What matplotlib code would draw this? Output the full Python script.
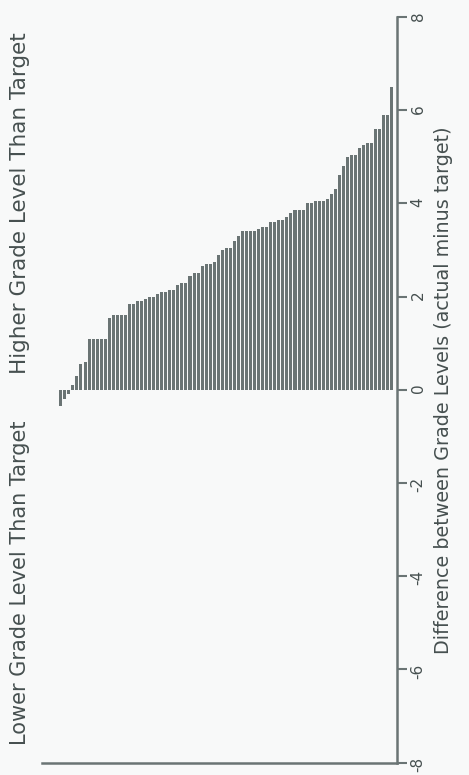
import matplotlib.pyplot as plt
from matplotlib.transforms import blended_transform_factory

# grade-level difference per item (actual minus target), sorted
diffs = [-0.35, -0.2, -0.1, 0.1, 0.3,
         0.55, 0.6,
         1.1, 1.1, 1.1, 1.1, 1.1,
         1.55, 1.6, 1.6, 1.6, 1.6,
         1.85, 1.85, 1.9, 1.9,
         1.95, 2.0, 2.0,
         2.05, 2.1, 2.1,
         2.15, 2.15,
         2.25, 2.3, 2.3,
         2.45, 2.5, 2.5,
         2.65, 2.7, 2.7, 2.75,
         2.9, 3.0, 3.05, 3.05,
         3.2, 3.3, 3.4, 3.4,
         3.4, 3.4, 3.45, 3.5, 3.5,
         3.6, 3.6, 3.65, 3.65, 3.7,
         3.8, 3.85, 3.85, 3.85,
         4.0, 4.0, 4.05, 4.05, 4.05, 4.1,
         4.2, 4.3, 4.6, 4.8,
         5.0, 5.05, 5.05,
         5.2, 5.25, 5.3, 5.3,
         5.6, 5.6,
         5.9, 5.9,
         6.5]
ticks = [-8, -6, -4, -2, 0, 2, 4, 6, 8]
tick_labels = ["-8", "-6", "-4", "-2", "0", "2", "4", "6", "8"]

grey = "#6a7474"
ink = "#465050"

fig = plt.figure(figsize=(4.69, 7.75), dpi=100, facecolor="#f8f9f9")
ax = fig.add_axes([0.09, 0.016, 0.756, 0.962])
ax.set_facecolor("#f8f9f9")

ax.bar(range(len(diffs)), diffs, width=0.75, color=grey, linewidth=0)

ax.set_xlim(-4.6, 83.2)
ax.set_ylim(-8, 8)
ax.set_xticks([])
ax.yaxis.tick_right()
ax.yaxis.set_label_position("right")
ax.set_yticks(ticks)
ax.set_yticklabels(tick_labels)
ax.tick_params(axis="y", direction="out", length=7, width=1.5, color=grey,
               labelcolor=ink, labelsize=11, labelrotation=90, pad=3)
for s in ["top", "left"]:
    ax.spines[s].set_visible(False)
for s in ["right", "bottom"]:
    ax.spines[s].set_color(grey)
    ax.spines[s].set_linewidth(1.8)

ax.set_ylabel("Difference between Grade Levels (actual minus target)",
              fontsize=13.8, color=ink, labelpad=6)

tr = blended_transform_factory(fig.transFigure, ax.transData)
ax.text(0.042, 4.0, "Higher Grade Level Than Target", transform=tr,
        rotation=90, ha="center", va="center", fontsize=15.5, color=ink)
ax.text(0.042, -4.15, "Lower Grade Level Than Target", transform=tr,
        rotation=90, ha="center", va="center", fontsize=15, color=ink)

fig.savefig("out.png", dpi=100, facecolor=fig.get_facecolor())
